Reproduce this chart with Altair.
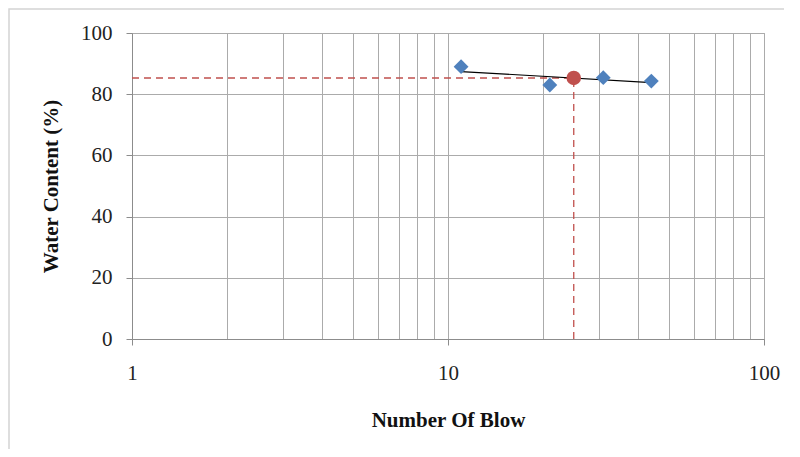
import altair as alt
import pandas as pd

# measured points (Number of blows vs water content)
blows = [11, 21, 31, 44]
water = [89.0, 83.0, 85.4, 84.3]

# trend line end points
trend_x = [11, 44]
trend_y = [87.4, 83.8]

# liquid limit at 25 blows
ll_x = 25
ll_y = 85.3

x_ticks = [1, 2, 3, 4, 5, 6, 7, 8, 9, 10, 20, 30, 40, 50, 60, 70, 80, 90, 100]
y_ticks = [0, 20, 40, 60, 80, 100]

pts = pd.DataFrame({"x": blows, "y": water})
trend = pd.DataFrame({"x": trend_x, "y": trend_y})
llpt = pd.DataFrame({"x": [ll_x], "y": [ll_y]})
hline = pd.DataFrame({"x": [1], "x2": [ll_x], "y": [ll_y]})
vline = pd.DataFrame({"x": [ll_x], "y": [0], "y2": [ll_y]})
frame = pd.DataFrame({"k": [0]})

FONT = "Liberation Serif"
GRID = "#ababab"

xscale = alt.Scale(type="log", domain=[1, 100], nice=False)
yscale = alt.Scale(domain=[0, 100], nice=False)

xaxis = alt.Axis(
    title="Number  Of  Blow",
    values=x_ticks,
    labelExpr="indexof([1,10,100], datum.value) >= 0 ? datum.label : ''",
    grid=True, gridColor=GRID, gridWidth=1,
    domainColor="#8c8c8c", tickColor="#8c8c8c", tickSize=6,
    tickOpacity={"condition": {"test": "indexof([1,10,100], datum.value) >= 0", "value": 1}, "value": 0},
    labelFont=FONT, labelFontSize=21, labelColor="#222222", labelPadding=17,
    labelFlush=False,
    titleFont=FONT, titleFontSize=21, titleFontWeight="bold", titleColor="#111111",
    titlePadding=26,
)
yaxis = alt.Axis(
    title="Water  Content  (%)",
    values=y_ticks,
    grid=True, gridColor=GRID, gridWidth=1,
    domainColor="#8c8c8c", tickColor="#8c8c8c", tickSize=6,
    labelFont=FONT, labelFontSize=21, labelColor="#222222", labelPadding=14,
    titleFont=FONT, titleFontSize=21, titleFontWeight="bold", titleColor="#111111",
    titlePadding=19,
)

base_x = alt.X("x:Q", scale=xscale, axis=xaxis)
base_y = alt.Y("y:Q", scale=yscale, axis=yaxis)

frame_layer = alt.Chart(frame).mark_rect(
    fillOpacity=0, stroke="#d4d4d4", strokeWidth=1.5
).encode(
    x=alt.value(-123), x2=alt.value(700), y=alt.value(-24), y2=alt.value(417)
)

h_layer = alt.Chart(hline).mark_rule(
    color="#c0504d", strokeDash=[7, 5], strokeWidth=1.3
).encode(x=base_x, x2="x2:Q", y=base_y)

v_layer = alt.Chart(vline).mark_rule(
    color="#c0504d", strokeDash=[7, 5], strokeWidth=1.3
).encode(x=base_x, y=base_y, y2="y2:Q")

trend_layer = alt.Chart(trend).mark_line(color="#000000", strokeWidth=1.2).encode(
    x=base_x, y=base_y
)

pts_layer = alt.Chart(pts).mark_point(
    shape="diamond", filled=True, color="#4f81bd", size=220, opacity=1
).encode(x=base_x, y=base_y)

ll_layer = alt.Chart(llpt).mark_point(
    shape="circle", filled=True, color="#c0504d", size=210, opacity=1
).encode(x=base_x, y=base_y)

chart = alt.layer(
    frame_layer, h_layer, v_layer, trend_layer, pts_layer, ll_layer
).properties(
    width=632, height=306,
    autosize=alt.AutoSizeParams(type="none"),
    padding={"left": 124, "top": 25, "right": 20, "bottom": 110},
    background="white",
).configure_view(stroke="#a6a6a6", strokeWidth=1)

chart.save("out.html", embed_options={"renderer": "svg", "actions": False})
